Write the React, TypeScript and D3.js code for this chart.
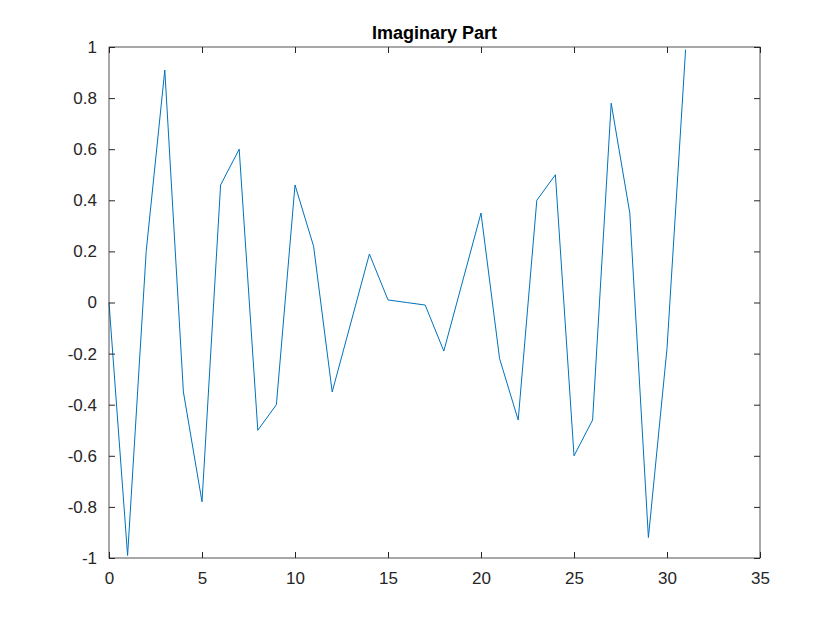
import { useEffect, useRef } from "react";
import * as d3 from "d3";

// Imaginary part samples, n = 0..31
const xs = d3.range(0, 32);
const values = [
  0, -0.99, 0.2, 0.91, -0.35, -0.78, 0.46, 0.6, -0.5, -0.4,
  0.46, 0.22, -0.35, -0.08, 0.19, 0.01, 0, -0.01, -0.19, 0.08,
  0.35, -0.22, -0.46, 0.4, 0.5, -0.6, -0.46, 0.78, 0.35, -0.92,
  -0.18, 0.99,
];
const xTicks = [0, 5, 10, 15, 20, 25, 30, 35];
const yTicks = [-1, -0.8, -0.6, -0.4, -0.2, 0, 0.2, 0.4, 0.6, 0.8, 1];

const W = 840, H = 630;
const M = { top: 47, right: 80, bottom: 72, left: 109 };

export default function App() {
  const ref = useRef<SVGSVGElement>(null);

  useEffect(() => {
    const svg = d3.select(ref.current);
    svg.selectAll("*").remove();
    const iw = W - M.left - M.right, ih = H - M.top - M.bottom;
    const x = d3.scaleLinear().domain([0, 35]).range([0, iw]);
    const y = d3.scaleLinear().domain([-1, 1]).range([ih, 0]);
    const font = "'Liberation Sans', Arial, sans-serif";

    svg.append("rect").attr("width", W).attr("height", H).attr("fill", "#fff");
    const g = svg.append("g").attr("transform", `translate(${M.left},${M.top})`);

    g.append("path")
      .datum(values)
      .attr("fill", "none")
      .attr("stroke", "#0072bd")
      .attr("stroke-width", 1)
      .attr("d", d3.line<number>().x((_, i) => x(xs[i])).y((d) => y(d)));

    g.append("rect").attr("width", iw).attr("height", ih)
      .attr("fill", "none").attr("stroke", "#262626").attr("stroke-width", 0.8);

    const styleAxis = (a: any) => {
      a.select(".domain").remove();
      a.selectAll(".tick line").attr("stroke", "#262626");
      a.selectAll(".tick text").attr("fill", "#262626").attr("font-size", 17).attr("font-family", font);
    };

    g.append("g").attr("transform", `translate(0,${ih})`)
      .call(d3.axisBottom(x).tickValues(xTicks).tickSize(-6).tickPadding(14).tickFormat(d3.format("d")))
      .call(styleAxis);
    g.append("g")
      .call(d3.axisTop(x).tickValues(xTicks).tickSize(-6).tickFormat(() => ""))
      .call(styleAxis);
    g.append("g")
      .call(d3.axisLeft(y).tickValues(yTicks).tickSize(-6).tickPadding(12).tickFormat((d) => String(+d)))
      .call(styleAxis);
    g.append("g").attr("transform", `translate(${iw},0)`)
      .call(d3.axisRight(y).tickValues(yTicks).tickSize(-6).tickFormat(() => ""))
      .call(styleAxis);

    svg.append("text")
      .attr("x", M.left + iw / 2).attr("y", 39)
      .attr("text-anchor", "middle")
      .attr("font-family", font).attr("font-size", 18).attr("font-weight", "bold")
      .attr("fill", "#000")
      .text("Imaginary Part");
  }, []);

  return <svg ref={ref} width={W} height={H} style={{ display: "block", margin: -8 }} />;
}
